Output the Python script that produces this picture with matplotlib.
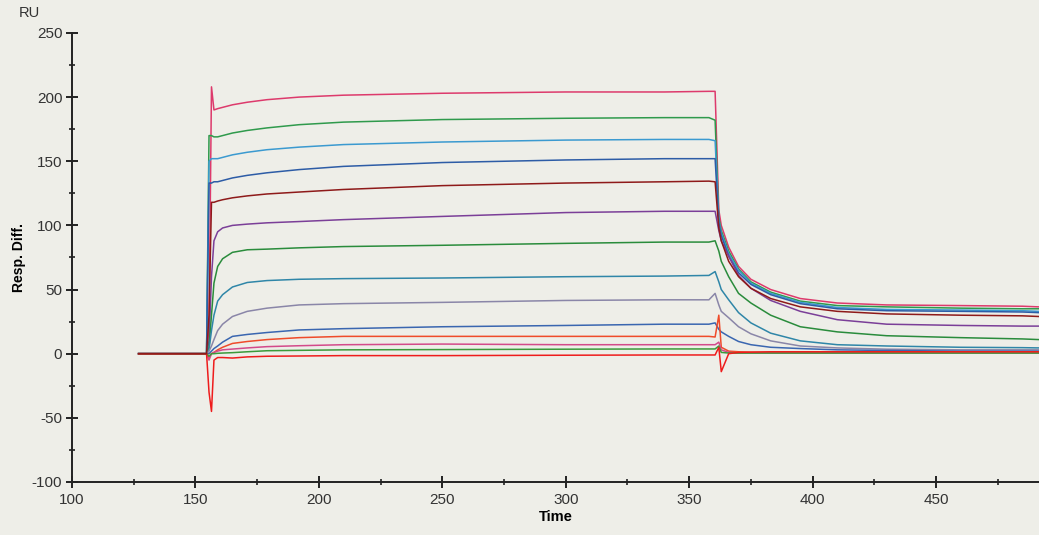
import matplotlib
matplotlib.use("Agg")
import matplotlib.pyplot as plt
from matplotlib.ticker import MultipleLocator

plt.rcParams["font.family"] = ["Liberation Sans", "DejaVu Sans"]
plt.rcParams["axes.unicode_minus"] = False

# sample times (s) shared by every sensorgram
t = [127, 154.5, 155.5, 156.5, 157.5, 159, 161, 165, 171, 179, 192, 210, 250,
     300, 340, 358, 360.5, 362, 363, 366, 370, 375, 383, 395, 410, 430, 460,
     485, 491.5]

# response (RU), highest concentration first
pink = [0, 0, 20, 208, 190, 191, 192, 194, 196, 198, 200, 201.5, 203, 204,
        204, 204.5, 204.5, 112, 100, 83, 68, 58, 50, 43, 39.5, 38, 37.5, 37, 36.5]
green = [0, 0, 170, 170, 169, 169, 170, 172, 174, 176, 178.5, 180.5, 182.5,
         183.5, 184, 184, 182, 106, 96, 80, 66, 56, 48, 41, 37.5, 36.5, 35.5, 35, 35]
lightblue = [0, 0, 150, 152, 152, 152, 153, 155, 157, 159, 161, 163, 165,
             166.5, 167, 167, 166, 104, 94, 78, 65, 55, 47, 40, 36, 34.5, 34, 33.5, 33]
blue = [0, 0, 133, 133, 134, 134, 135, 137, 139, 141, 143.5, 146, 149, 151,
        152, 152, 152, 102, 92, 76, 63, 54, 46, 39, 35, 33.5, 33, 32.5, 32]
darkred = [0, 0, 30, 118, 118, 119, 120, 121.5, 123, 124.5, 126, 128, 131,
           133, 134, 134.5, 134, 98, 88, 72, 60, 51, 43, 36.5, 33, 31, 30, 29.5, 29]
purple = [0, 0, 10, 60, 88, 95, 98, 100, 101, 102, 103, 104.5, 107, 110, 111,
          111, 111, 96, 88, 76, 61, 51, 41.5, 33, 26.5, 23, 22, 21.5, 21.5]
green2 = [0, 0, 5, 30, 55, 68, 74, 79, 81, 81.5, 82.5, 83.5, 84.5, 86, 87, 87,
          88, 80, 72, 60, 47, 39.5, 30, 21, 17, 14, 12.5, 11.5, 11]
teal = [0, 0, 3, 18, 30, 41, 46, 52, 55.5, 57, 58, 58.5, 59, 60, 60.5, 61, 64,
        56, 50, 42, 32, 24, 16, 10, 7, 6, 5, 4.7, 4.5]
grey = [0, 0, 2, 6, 11, 18, 23, 29, 33, 35.5, 38, 39, 40, 41.5, 42, 42, 47,
        38, 33, 28, 21, 15.5, 10, 6, 4.5, 3.5, 3, 3, 3]
blue2 = [0, 0, 0, 2, 4, 6, 9, 13.5, 15, 16.5, 18.5, 19.5, 21, 22, 23, 23, 24,
         19, 17, 13.5, 9.5, 7, 5, 4, 3, 2.5, 2, 2, 2]
orange = [0, 0, -3, 0, 1, 3, 5, 8, 9.5, 11, 12.5, 13.5, 13.5, 13.5, 13.5,
          13.5, 13, 30, 5, 2, 1.5, 1.2, 1, 1, 1, 1, 1, 1, 1]
pink2 = [0, 0, -5, 0, 1, 2, 3, 3.6, 4.5, 5.5, 6.2, 7, 7.5, 7, 7, 7, 7, 9, 3,
         1, 0.5, 0.5, 0.5, 0.5, 0.5, 0.5, 0.5, 0.5, 0.5]
green3 = [0, 0, -2, 0, 0, 0.3, 0.5, 0.8, 1.5, 2.3, 2.6, 3, 3.2, 3.5, 3.7, 3.7,
          3.7, 6, 1, 0.5, 0.5, 0.5, 0.5, 0.5, 0.5, 0.5, 0.5, 0.5, 0.5]
red = [0, 0, -30, -45, -5, -3, -3, -3.4, -2.5, -2, -1.8, -1.5, -1.5, -1.2, -1,
       -1, -1, 5, -14, 0, 1, 1.2, 1.5, 1.5, 1.5, 1.5, 1.5, 1.5, 1.5]

curves = [
    (pink, "#dd3a6c", 2),
    (green, "#2f9a4c", 2),
    (lightblue, "#3b9ad0", 2),
    (blue, "#2d5ca6", 2),
    (purple, "#7b3f98", 2),
    (green2, "#2a8c3c", 2),
    (teal, "#2f86a8", 2),
    (grey, "#8a86a8", 2),
    (blue2, "#3a66b0", 2),
    (orange, "#ef4b2a", 2),
    (pink2, "#d34a8a", 2),
    (green3, "#3b9a3b", 2),
    (red, "#ee1c1c", 2),
    (darkred, "#8e1a1a", 3),
]

bg = "#eeeee8"
fig = plt.figure(figsize=(10.39, 5.35), dpi=100, facecolor=bg)
ax = fig.add_axes([0.0693, 0.0991, 0.9307, 0.8393], facecolor=bg)

for y, c, z in curves:
    ax.plot(t, y, color=c, lw=1.1, zorder=z)

ax.set_xlim(100, 491.7)
ax.set_ylim(-100, 250)
ax.xaxis.set_major_locator(MultipleLocator(50))
ax.xaxis.set_minor_locator(MultipleLocator(25))
ax.yaxis.set_major_locator(MultipleLocator(50))
ax.yaxis.set_minor_locator(MultipleLocator(25))

for side in ["top", "right"]:
    ax.spines[side].set_visible(False)
for side in ["left", "bottom"]:
    ax.spines[side].set_linewidth(1.4)
    ax.spines[side].set_color("#222222")

ax.tick_params(which="major", direction="inout", length=8, width=1.4,
               labelsize=11, labelcolor="#333333", color="#222222")
ax.tick_params(which="minor", direction="inout", length=5, width=1.2,
               color="#222222")
ax.tick_params(axis="x", pad=4)
ax.tick_params(axis="y", pad=3)

ax.set_xlabel("Time", fontsize=10.5, fontweight="bold", labelpad=2)
ax.set_ylabel("Resp. Diff.", fontsize=10, fontweight="bold", labelpad=4)
fig.text(0.018, 0.975, "RU", fontsize=10.5, color="#333333", va="center")

fig.savefig("out.png", dpi=100, facecolor=bg)
